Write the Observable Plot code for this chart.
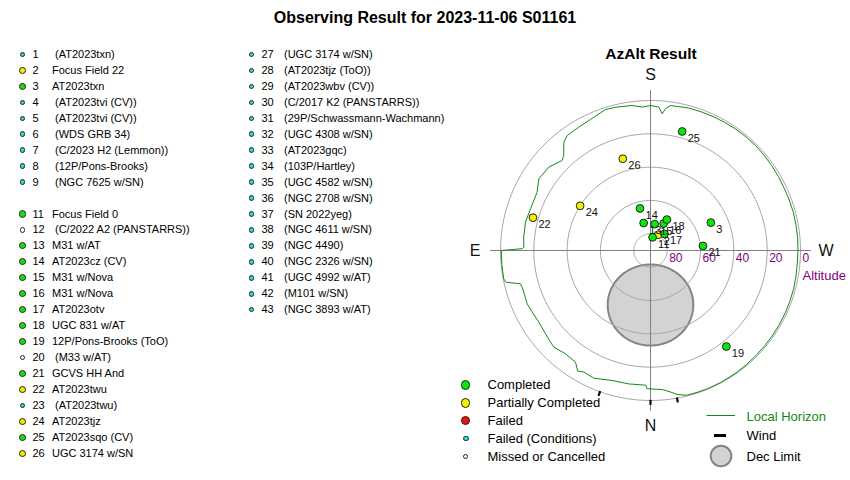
<!DOCTYPE html>
<html>
<head>
<meta charset="utf-8">
<script src="https://cdn.jsdelivr.net/npm/d3@7"></script>
<script src="https://cdn.jsdelivr.net/npm/@observablehq/plot@0.6"></script>
<style>
  body { margin: 0; background: #fff; }
  #root { position: relative; width: 850px; height: 480px; overflow: hidden;
          font-family: "Liberation Sans", Arial, sans-serif; color: #000; }
  #root > svg { position: absolute; left: 0; top: 0; }
  .abs { position: absolute; white-space: nowrap; line-height: 1; }
  .dot { position: absolute; border-radius: 50%; box-sizing: border-box; border: 1px solid #222; }
</style>
</head>
<body>
<div id="root"></div>
<script>
// ---------------- DATA ----------------
const chartTitle = "Observing Result for 2023-11-06 S01161";
const polarTitle = "AzAlt Result";

const listIds = [1,2,3,4,5,6,7,8,9,11,12,13,14,15,16,17,18,19,20,21,22,23,24,25,26,
  27,28,29,30,31,32,33,34,35,36,37,38,39,40,41,42,43];
const listNames = ["(AT2023txn)","Focus Field 22","AT2023txn","(AT2023tvi (CV))","(AT2023tvi (CV))",
  "(WDS GRB 34)","(C/2023 H2 (Lemmon))","(12P/Pons-Brooks)","(NGC 7625 w/SN)",
  "Focus Field 0","(C/2022 A2 (PANSTARRS))","M31 w/AT","AT2023cz (CV)","M31 w/Nova","M31 w/Nova",
  "AT2023otv","UGC 831 w/AT","12P/Pons-Brooks (ToO)","(M33 w/AT)","GCVS HH And","AT2023twu",
  "(AT2023twu)","AT2023tjz","AT2023sqo (CV)","UGC 3174 w/SN",
  "(UGC 3174 w/SN)","(AT2023tjz (ToO))","(AT2023wbv (CV))","(C/2017 K2 (PANSTARRS))",
  "(29P/Schwassmann-Wachmann)","(UGC 4308 w/SN)","(AT2023gqc)","(103P/Hartley)","(UGC 4582 w/SN)",
  "(NGC 2708 w/SN)","(SN 2022yeg)","(NGC 4611 w/SN)","(NGC 4490)","(NGC 2326 w/SN)",
  "(UGC 4992 w/AT)","(M101 w/SN)","(NGC 3893 w/AT)"];
const listStatus = ["FC","P","C","FC","FC","FC","FC","FC","FC",
  "C","M","C","C","C","C","C","C","C","M","C","P","FC","P","C","P",
  "FC","FC","FC","FC","FC","FC","FC","FC","FC","FC","FC","FC","FC","FC","FC","FC","FC"];

// targets drawn on the AzAlt chart (azimuth from N through E, altitude in degrees)
const plotIds    = [2,    3,     11,   13,   14,   15,   16,   17,   18,   19,    21,   22,    24,    25,    26];
const plotStatus = ["P",  "C",   "C",  "C",  "C",  "C",  "C",  "C",  "C",  "C",   "C",  "P",   "P",   "C",   "P"];
const plotAz     = [206,  245.2, 189,  166,  166,  189,  206,  220,  208,  321.7, 265,  105.6, 122.4, 194.9, 163.2];
const plotAlt    = [79.5, 50.1,  82,   73,   64,   74,   72,   77,   69,   16.6,  58.4, 16.8,  40,    16.1,  32.5];

// local horizon profile
const horizonAz  = [0, 1.4, 2.0, 3.5, 9.2, 16.4, 23.9, 28.9, 31.1, 33.9, 39.5, 45, 47.5, 51.6, 57.3,
  62.5, 66.6, 74, 75.6, 77.7, 79.2, 90, 90.8, 91.5, 96, 102.8, 109.2, 117.2, 122.7, 129.3, 135.5,
  137.6, 141.3, 144.1, 149.8, 155.4, 162.3, 166.3, 172.8, 176.7, 180, 183.3, 184.9, 186, 187.9,
  195, 205, 215, 225, 235, 245, 255, 265, 275, 285, 295, 305, 315, 325, 332, 337.7, 346, 349.5,
  352, 355, 360];
const horizonAlt = [7, 7, 9.1, 9.2, 8.9, 8.7, 6.2, 6.8, 5.5, 9.3, 9.7, 8, 8.6, 9.6, 10.4,
  10, 9.4, 9.9, 9.5, 1, 0.3, 0.5, 13, 14, 13.5, 13.1, 13.8, 13.5, 10.4, 11.1, 14.3,
  12.8, 6.8, 4.8, 4.4, 3.5, 1.2, 1.5, 2.3, 3.8, 3, 3.8, 7.7, 4.5, 2.2,
  1.5, 1.3, 1.0, 0.9, 1.2, 1.5, 1.3, 1.4, 1.6, 1.1, 0.9, 0.8, 0.7, 0.4, 0.3, 0.3, 0.5, 2.1,
  4.3, 6.2, 7];

const windAz = [19.7, 0, 349.8];
const altTicks = [80, 60, 40, 20, 0];
const cardinalNames = ["S", "N", "E", "W"];
const cardinalAz = [180, 0, 90, 270];
const decLimitAz = 0, decLimitAlt = 57.3, decLimitRadiusDeg = 24.3;

const statusKeys = ["C", "P", "F", "FC", "M"];
const statusLabels = ["Completed", "Partially Completed", "Failed", "Failed (Conditions)", "Missed or Cancelled"];

// ---------------- STYLE ----------------
const statusColors = ["#0be60b", "#f5f000", "#ee1111", "#22dede", "#ffffff"];
const font = '"Liberation Sans", Arial, sans-serif';

// ---------------- BUILD ----------------
const targets = plotIds.map((id, i) => ({id, status: plotStatus[i], az: plotAz[i], alt: plotAlt[i]}));
const horizon = horizonAz.map((az, i) => ({az, alt: horizonAlt[i]}));
const cardinals = cardinalNames.map((t, i) => ({t, az: cardinalAz[i]}));
const decLimit = [{az: decLimitAz, alt: decLimitAlt, radius: decLimitRadiusDeg}];

const chart = Plot.plot({
  width: 850, height: 480,
  marginLeft: 500, marginRight: 50, marginTop: 100, marginBottom: 80,
  projection: {
    type: "azimuthal-equidistant",
    rotate: [0, -90],
    domain: d3.geoCircle().center([0, 90]).radius(90)(),
    clip: false
  },
  color: {domain: statusKeys, range: statusColors},
  style: {fontFamily: font, background: "transparent", overflow: "visible"},
  marks: [
    Plot.geo(decLimit, {geometry: d => d3.geoCircle().center([-d.az, d.alt]).radius(d.radius)(),
      fill: "#d3d3d3", stroke: "#858585", strokeWidth: 2}),
    Plot.geo(altTicks, {geometry: a => d3.geoCircle().center([0, 90]).radius(90 - a)(),
      fill: "none", stroke: "#a6a6a6", strokeWidth: 1}),
    Plot.link(cardinalAz, {x1: () => 0, y1: () => 90, x2: d => -d, y2: () => -6.2,
      stroke: "#808080", strokeWidth: 1}),
    Plot.line(horizon, {x: d => -d.az, y: "alt", stroke: "#138a13", strokeWidth: 1}),
    Plot.link(windAz, {x1: d => -d, y1: () => 0.4, x2: d => -d, y2: () => -2.6,
      stroke: "#000", strokeWidth: 2.2}),
    Plot.text(altTicks, {x: () => -270, y: d => d, text: d => String(d), dx: 2, dy: 8,
      textAnchor: "start", fill: "#800080", fontSize: 12}),
    Plot.text(["Altitude"], {x: () => -270, y: () => 0, text: d => d, dx: 2, dy: 25,
      textAnchor: "start", fill: "#800080", fontSize: 13}),
    Plot.text(cardinals, {x: d => -d.az, y: () => -15.3, text: "t", fontSize: 16, fill: "#111"}),
    Plot.dot(targets, {x: d => -d.az, y: "alt", r: 3.9, fill: "status", stroke: "#222", strokeWidth: 1}),
    Plot.text(targets, {x: d => -d.az, y: "alt", text: d => String(d.id), dx: 5.5, dy: 7,
      textAnchor: "start", fontSize: 11, fill: "#111"})
  ]
});

const root = document.getElementById("root");
root.appendChild(chart);

function text(str, x, y, opts = {}) {
  const d = document.createElement("div");
  d.className = "abs";
  d.textContent = str;
  d.style.left = x + "px";
  d.style.top = y + "px";
  d.style.fontSize = (opts.size || 11) + "px";
  if (opts.bold) d.style.fontWeight = "bold";
  if (opts.color) d.style.color = opts.color;
  d.style.transform = opts.center ? "translate(-50%,-50%)" : "translate(0,-50%)";
  root.appendChild(d);
  return d;
}
function dot(x, y, r, color) {
  const s = document.createElement("span");
  s.className = "dot";
  s.style.left = (x - r) + "px";
  s.style.top = (y - r) + "px";
  s.style.width = (2 * r) + "px";
  s.style.height = (2 * r) + "px";
  s.style.background = color;
  root.appendChild(s);
}
const colorOf = k => statusColors[statusKeys.indexOf(k)];
const dotR = k => (k === "C" || k === "P" || k === "F") ? 3.6 : (k === "FC" ? 2.8 : 2.6);

// titles
text(chartTitle, 425, 18, {size: 16, bold: true, center: true});
text(polarTitle, 651, 54, {size: 15.5, bold: true, center: true});

// target list
listIds.forEach((id, i) => {
  const col2 = id >= 27;
  const row = col2 ? id - 27 : id - 1;
  const y = 54 + row * 15.95;
  const st = listStatus[i];
  const dx = col2 ? 229 : 0;
  dot(22.5 + dx, y + 0.5, dotR(st), colorOf(st));
  text(String(id), 32.5 + dx, y, {size: 11});
  const nameX = col2 ? 284 : (listNames[i].startsWith("(") ? 55 : 52);
  text(listNames[i], nameX, y, {size: 11});
});

// status legend
statusKeys.forEach((k, i) => {
  const y = [384, 402, 419.5, 437.5, 455.5][i];
  const r = (k === "FC") ? 2.9 : (k === "M" ? 2.6 : 4.6);
  dot(465.7, y + 1, r, colorOf(k));
  text(statusLabels[i], 487.5, y, {size: 13});
});

// right legend
const lg = document.createElementNS("http://www.w3.org/2000/svg", "svg");
lg.setAttribute("width", 850); lg.setAttribute("height", 480);
lg.style.position = "absolute"; lg.style.left = "0"; lg.style.top = "0"; lg.style.pointerEvents = "none";
lg.innerHTML = `
  <line x1="706.5" x2="735" y1="415.5" y2="415.5" stroke="#138a13" stroke-width="1"/>
  <line x1="714" x2="726" y1="435.5" y2="435.5" stroke="#000" stroke-width="3"/>
  <circle cx="721" cy="456" r="10.3" fill="#d3d3d3" stroke="#858585" stroke-width="2"/>`;
root.appendChild(lg);
text("Local Horizon", 746.5, 415.5, {size: 13, color: "#138a13"});
text("Wind", 746.5, 435, {size: 13});
text("Dec Limit", 746.5, 456, {size: 13});
</script>
</body>
</html>
